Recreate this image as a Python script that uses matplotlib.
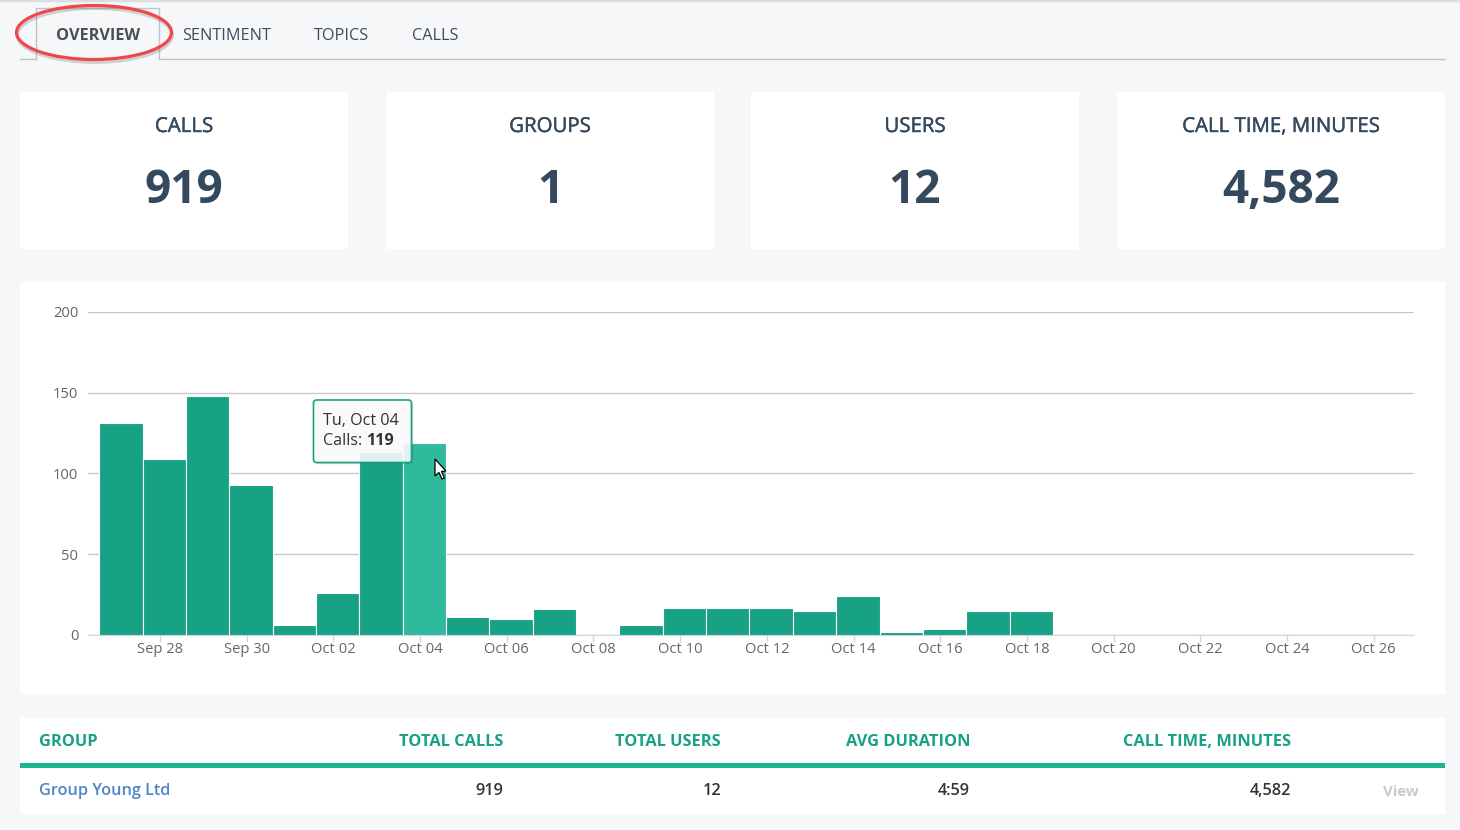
import matplotlib
matplotlib.use("Agg")
import matplotlib.pyplot as plt
import matplotlib.patheffects as pe
from matplotlib.patches import Rectangle, Ellipse, FancyBboxPatch, Polygon

plt.rcParams["font.family"] = ["Open Sans", "DejaVu Sans"]

W, H = 1460, 830
BG = "#f6f7f9"
TEAL = "#17a185"
TEAL_HI = "#2fb99d"
DARK = "#34495e"

# chart data
days = ["Sep 27", "Sep 28", "Sep 29", "Sep 30", "Oct 01", "Oct 02", "Oct 03", "Oct 04",
        "Oct 05", "Oct 06", "Oct 07", "Oct 08", "Oct 09", "Oct 10", "Oct 11", "Oct 12",
        "Oct 13", "Oct 14", "Oct 15", "Oct 16", "Oct 17", "Oct 18", "Oct 19", "Oct 20",
        "Oct 21", "Oct 22", "Oct 23", "Oct 24", "Oct 25", "Oct 26"]
calls = [131, 109, 148, 93, 6, 26, 113, 119, 11, 10, 16, 0, 6, 17, 17, 17, 15, 24, 2, 4,
         15, 15, 0, 0, 0, 0, 0, 0, 0, 0]
y_ticks = [0, 50, 100, 150, 200]
highlight = "Oct 04"

# page text
tabs = ["OVERVIEW", "SENTIMENT", "TOPICS", "CALLS"]
card_titles = ["CALLS", "GROUPS", "USERS", "CALL TIME, MINUTES"]
card_values = ["919", "1", "12", "4,582"]
table_head = ["GROUP", "TOTAL CALLS", "TOTAL USERS", "AVG DURATION", "CALL TIME, MINUTES"]
table_row = ["Group Young Ltd", "919", "12", "4:59", "4,582"]

fig = plt.figure(figsize=(W / 100, H / 100), dpi=100, facecolor=BG)

# page layer in pixel coordinates
page = fig.add_axes([0, 0, 1, 1], zorder=0)
page.set_xlim(0, W)
page.set_ylim(H, 0)
page.axis("off")

page.add_patch(Rectangle((0, 0), W, 1.5, color="#dcdde1"))

# tabs
page.plot([20, 36], [59.5, 59.5], color="#bfc2c6", lw=1)
page.plot([159, 1445], [59.5, 59.5], color="#bfc2c6", lw=1)
page.plot([36, 36, 159, 159], [59.5, 8.5, 8.5, 59.5], color="#bfc2c6", lw=1)
tab_x = [98, 227, 341.5, 435]
for i, (name, x) in enumerate(zip(tabs, tab_x)):
    page.text(x, 40, name, ha="center", va="baseline", fontsize=11.7,
              fontweight="bold" if i == 0 else "normal",
              color="#4a4f55" if i == 0 else "#3f4a5a")

# red marker ellipse
page.add_patch(Ellipse((94, 32.5), 155, 54, fill=False, ec="#f0474c", lw=2.3, zorder=3,
                       path_effects=[pe.SimpleLineShadow(offset=(0.6, -2), shadow_color="#777777", alpha=0.3),
                                     pe.Normal()]))

# stat cards
card_x = [20, 386, 751, 1117]
for x, title, val in zip(card_x, card_titles, card_values):
    page.add_patch(Rectangle((x, 92), 328, 157, color="white", lw=0))
    page.text(x + 164, 132, title, ha="center", va="baseline", fontsize=14.7, color=DARK,
              path_effects=[pe.withStroke(linewidth=0.3, foreground=DARK)])
    page.text(x + 164, 203, val, ha="center", va="baseline", fontsize=33, fontweight="bold", color=DARK)

# chart and table panels
page.add_patch(Rectangle((20, 282), 1425, 412, color="white", lw=0))
page.add_patch(Rectangle((20, 718), 1425, 96, color="white", lw=0))
page.add_patch(Rectangle((20, 763), 1425, 4.5, color="#1cb594", lw=0))

head_x = [39, 503, 721, 970, 1291]
for i, (head, cell, x) in enumerate(zip(table_head, table_row, head_x)):
    ha = "left" if i == 0 else "right"
    page.text(x, 746, head, ha=ha, va="baseline", fontsize=11.75, fontweight="bold", color=TEAL)
    page.text(x, 795, cell, ha=ha, va="baseline", fontsize=11.7,
              fontweight="semibold", color="#4a86c5" if i == 0 else "#333333")
page.text(1419, 796, "View", ha="right", va="baseline", fontsize=10.8, fontweight="bold", color="#c6c9cd")

# bar chart, axes box matches the plot area of the original
ax = fig.add_axes([88 / W, 1 - 635 / H, (1414 - 88) / W, (635 - 311.7) / H], zorder=1)
ax.patch.set_alpha(0)
x_pos = list(range(len(days)))
colors = [TEAL_HI if d == highlight else TEAL for d in days]
ax.bar(x_pos, calls, width=1.0, color=colors, edgecolor="white", linewidth=0.8, zorder=3)
ax.set_xlim(-0.76, 29.83)
ax.set_ylim(0, 200)
ax.set_yticks(y_ticks)
ax.set_xticks([p - 0.1 for p in x_pos[1::2]], days[1::2])
ax.grid(axis="y", color="#c8c8c8", lw=1, zorder=1)
ax.set_axisbelow(True)
for s in ["top", "left", "right"]:
    ax.spines[s].set_visible(False)
ax.spines["bottom"].set_color("#ccd6eb")
ax.tick_params(axis="y", length=0, pad=7, labelsize=10.6, labelcolor="#666666")
ax.tick_params(axis="x", length=5, width=1, color="#ccd6eb", pad=0, labelsize=10.6, labelcolor="#666666")

# tooltip and cursor on top of everything
top = fig.add_axes([0, 0, 1, 1], zorder=2)
top.set_xlim(0, W)
top.set_ylim(H, 0)
top.axis("off")
top.add_patch(FancyBboxPatch((313.5, 400), 98, 62.5, boxstyle="round,pad=0,rounding_size=3",
                             fc=(1, 1, 1, 0.87), ec=TEAL, lw=1.2,
                             path_effects=[pe.SimplePatchShadow(offset=(1.2, -1.2), alpha=0.2), pe.Normal()]))
top.text(323, 425, "Tu, Oct 04", ha="left", va="baseline", fontsize=11.6, color="#333333")
calls_lbl = top.text(323, 445, "Calls: ", ha="left", va="baseline", fontsize=11.6, color="#333333")
top.annotate("119", xy=(1, 0), xycoords=calls_lbl, ha="left", va="bottom", fontsize=11.6,
             fontweight="bold", color="#333333")
top.add_patch(Polygon([(435, 459), (435, 476), (439, 472.5), (442, 479), (444.5, 478),
                       (441.5, 471.5), (446, 471)], closed=True, fc="white", ec="black", lw=0.9))

fig.savefig("out.png", dpi=100, facecolor=BG)
